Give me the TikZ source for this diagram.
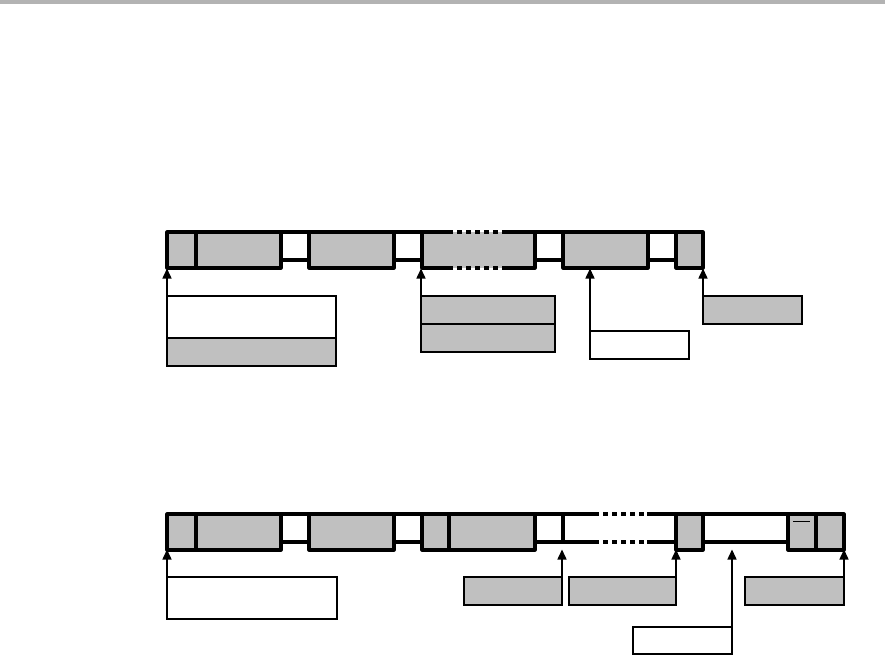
\documentclass[tikz,border=0pt]{standalone}
\usepackage{tikz}
\usetikzlibrary{arrows.meta,positioning,calc}
\definecolor{segray}{HTML}{C0C0C0}
\definecolor{rulegray}{HTML}{B3B3B3}
\tikzset{
  segbox/.style={draw=black,fill=segray,line width=3.2pt,line join=round,
                 anchor=north west,inner sep=0pt,outer sep=0pt,
                 minimum width=#1,minimum height=36bp},
  segfill/.style={fill=segray,anchor=north west,inner sep=0pt,outer sep=0pt,
                  minimum width=#1,minimum height=36bp},
  gapbox/.style={draw=black,fill=white,line width=3.2pt,line join=round,
                 anchor=north west,inner sep=0pt,outer sep=0pt,
                 minimum width=#1,minimum height=28bp},
  gapopen/.style={anchor=north west,inner sep=0pt,outer sep=0pt,
                  minimum width=#1,minimum height=28bp},
  segedge/.style={line width=3.2pt,line join=round},
  segdash/.style={line width=3.2pt,dash pattern=on 5bp off 4bp},
  tagbox/.style={draw=black,line width=1.6pt,fill=white,
                 anchor=north west,inner sep=0pt,outer sep=0pt,
                 minimum width=#1,minimum height=28bp},
  taggray/.style={tagbox=#1,fill=segray},
  tagarr/.style={-{Triangle[length=10bp,width=9bp]},line width=1.5pt}
}
\begin{document}
\begin{tikzpicture}[x=1bp,y=-1bp]
  \useasboundingbox (0,0) rectangle (885,656);
  \fill[rulegray] (0,0) rectangle (885,4);

  \coordinate (base1) at (0,268.5);
  \coordinate (base2) at (0,549.5);

  % upper frame
  \foreach \x in {281,394,535,648} {
    \node[gapbox=28bp] (ga\x) at (\x,232) {};
  }
  \node[segbox=29bp] (r1a) at (167,232) {};
  \node[segbox=85bp] (r1b) at (196,232) {};
  \node[segbox=85bp] (r1c) at (309,232) {};
  \node[segfill=113bp] (r1d) at (422,232) {};
  \draw[segedge] ($(r1d.north west)+(26,0)$) -| (r1d.south west) -- ++(26,0);
  \draw[segedge] ($(r1d.north east)+(-30,0)$) -| (r1d.south east) -- ++(-30,0);
  \draw[segdash] ($(r1d.north west)+(26,0)$) -- ++(57,0);
  \draw[segdash] ($(r1d.south west)+(26,0)$) -- ++(57,0);
  \node[segbox=85bp] (r1e) at (563,232) {};
  \node[segbox=27bp] (r1f) at (676,232) {};

  \node[tagbox=169bp,minimum height=42bp] (t1a) at (167,296) {};
  \node[taggray=169bp,below=0pt of t1a] (t1b) {};
  \node[taggray=134bp] (t1c) at (421,296) {};
  \node[taggray=134bp,below=0pt of t1c] (t1d) {};
  \node[tagbox=99bp] (t1e) at (590,331) {};
  \node[taggray=99bp] (t1f) at (703,296) {};

  \draw[tagarr] (t1a.north west) -- (t1a.north west |- base1);
  \draw[tagarr] (t1c.north west) -- (t1c.north west |- base1);
  \draw[tagarr] (t1e.north west) -- (t1e.north west |- base1);
  \draw[tagarr] (t1f.north west) -- (t1f.north west |- base1);

  % lower frame
  \foreach \x in {281,394,535} {
    \node[gapbox=28bp] (gb\x) at (\x,514) {};
  }
  \node[gapbox=85bp] (gb703) at (703,514) {};
  \node[segbox=29bp] (r2a) at (167,514) {};
  \node[segbox=85bp] (r2b) at (196,514) {};
  \node[segbox=85bp] (r2c) at (309,514) {};
  \node[segbox=27bp] (r2d) at (422,514) {};
  \node[segbox=86bp] (r2e) at (449,514) {};
  \node[gapopen=113bp] (r2f) at (563,514) {};
  \draw[segedge] ($(r2f.north west)+(31,0)$) -| (r2f.south west) -- ++(31,0);
  \draw[segedge] ($(r2f.north east)+(-29,0)$) -- (r2f.north east);
  \draw[segedge] ($(r2f.south east)+(-29,0)$) -- (r2f.south east);
  \draw[segdash] ($(r2f.north west)+(31,0)$) -- ++(53,0);
  \draw[segdash] ($(r2f.south west)+(31,0)$) -- ++(53,0);
  \node[segbox=27bp] (r2g) at (676,514) {};
  \node[segbox=28bp] (r2h) at (788,514) {};
  \draw[line width=0.8pt] ($(r2h.north west)+(5,7)$) -- ++(17,0);
  \node[segbox=28bp] (r2i) at (816,514) {};

  \node[tagbox=170bp,minimum height=42bp] (t2a) at (167,577) {};
  \node[taggray=98bp] (t2b) at (464,577) {};
  \node[taggray=107bp] (t2c) at (569,577) {};
  \node[tagbox=99bp,minimum height=27bp] (t2d) at (633,627) {};
  \node[taggray=99bp] (t2e) at (745,577) {};

  \draw[tagarr] (t2a.north west) -- (t2a.north west |- base2);
  \draw[tagarr] (t2b.north east) -- (t2b.north east |- base2);
  \draw[tagarr] (t2c.north east) -- (t2c.north east |- base2);
  \draw[tagarr] (t2d.north east) -- (t2d.north east |- base2);
  \draw[tagarr] (t2e.north east) -- (t2e.north east |- base2);
\end{tikzpicture}
\end{document}
